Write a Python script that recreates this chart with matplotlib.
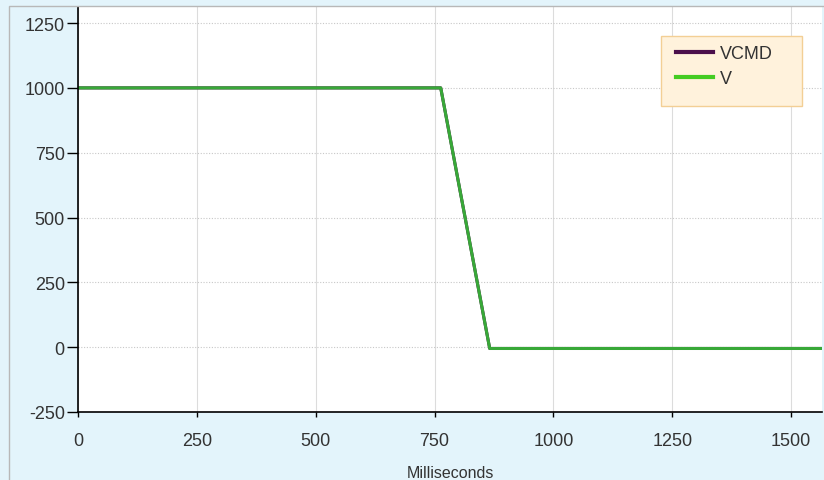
import matplotlib
matplotlib.use("Agg")
import matplotlib.pyplot as plt
from matplotlib.patches import Rectangle

plt.rcParams['font.family'] = ['Liberation Sans', 'DejaVu Sans']
plt.rcParams['axes.unicode_minus'] = False

# data
t_ms = [0, 763, 866, 1565]
vcmd = [1000, 1000, -5, -5]
v = [1000, 1000, -5, -5]

x_ticks = [0, 250, 500, 750, 1000, 1250, 1500]
y_ticks = [-250, 0, 250, 500, 750, 1000, 1250]

W, H = 824, 481
fig = plt.figure(figsize=(W / 100, H / 100), dpi=100)
fig.patch.set_facecolor('#e3f4fb')

# thin gray frame round the chart area
fig.patches.append(Rectangle((9 / W, -0.1), 1.2, (H - 7) / H + 0.1,
                             transform=fig.transFigure, facecolor='none',
                             edgecolor='#b8b8b8', linewidth=1))

ax = fig.add_axes([78 / W, (H - 413) / H, (822 - 78) / W, (413 - 8) / H])
ax.set_facecolor('white')

ax.plot(t_ms, vcmd, color='#4b0f4b', linewidth=2.2, label='VCMD')
ax.plot(t_ms, v, color='#38a838', linewidth=2.2, label='V')

ax.set_xlim(0, 1565)
ax.set_ylim(-250, 1312)
ax.set_xticks(x_ticks)
ax.set_yticks(y_ticks)

ax.grid(axis='x', color='#dcdcdc', linewidth=0.8, linestyle='-')
ax.grid(axis='y', color='#c8c8c8', linewidth=0.8, linestyle=(0, (1, 1.5)))

for s in ['top', 'right']:
    ax.spines[s].set_visible(False)
for s in ['left', 'bottom']:
    ax.spines[s].set_color('black')
    ax.spines[s].set_linewidth(1.2)

ax.tick_params(axis='both', direction='out', width=1,
               labelsize=13, labelcolor='#333333', color='black')
ax.tick_params(axis='x', length=3.6, pad=11)
ax.tick_params(axis='y', length=8, pad=1.5)

ax.set_xlabel('Milliseconds', fontsize=11.5, color='#333333', labelpad=11)

# legend box
ax.add_patch(Rectangle((661 / W, 1 - 107 / H), 141 / W, 70 / H,
                       transform=fig.transFigure, facecolor='#fff2dc',
                       edgecolor='#f3cf95', linewidth=1, zorder=4,
                       clip_on=False))
leg = ax.legend(loc='upper left', bbox_to_anchor=(676 / W, 1 - 46 / H),
                bbox_transform=fig.transFigure, fontsize=13, frameon=False,
                handlelength=2.05, handletextpad=0.4, labelspacing=0.45,
                borderpad=0, borderaxespad=0)
leg.set_zorder(5)
leg.legend_handles[1].set_color('#44cc22')
for h in leg.legend_handles:
    h.set_linewidth(3)
for txt in leg.get_texts():
    txt.set_color('#333333')

fig.savefig('out.png', dpi=100, facecolor=fig.get_facecolor())
